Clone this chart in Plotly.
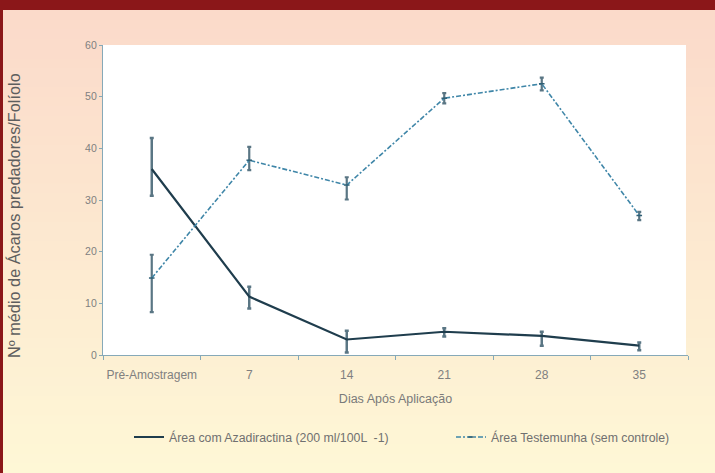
import plotly.graph_objects as go

categories = ["Pré-Amostragem", "7", "14", "21", "28", "35"]
acad = [36.0, 11.3, 3.0, 4.5, 3.7, 1.8]
acad_plus = [6.0, 1.9, 1.7, 0.7, 0.8, 0.6]
acad_minus = [5.2, 2.3, 2.5, 0.9, 1.9, 0.9]
test = [14.9, 37.7, 32.9, 49.7, 52.5, 27.0]
test_plus = [4.5, 2.6, 1.5, 1.0, 1.2, 0.7]
test_minus = [6.6, 1.9, 2.8, 1.0, 1.3, 0.9]
yticks = [0, 10, 20, 30, 40, 50, 60]

W, H = 715, 473
L, R, T, B = 103, 688, 45, 355


def px_x(p):
    return (p - L) / (R - L)


def px_y(p):
    return (B - p) / (B - T)


def hexmix(c1, c2, t):
    a = [int(c1[i:i + 2], 16) for i in (1, 3, 5)]
    b = [int(c2[i:i + 2], 16) for i in (1, 3, 5)]
    return "#%02x%02x%02x" % tuple(round(a[k] + (b[k] - a[k]) * t) for k in range(3))


FONT = "Liberation Sans, Arial, sans-serif"
shapes = []
n = 48
top_c, bot_c = "#FBDACA", "#FEF7D6"
y0 = 10
step = (H - y0) / n
for i in range(n):
    ya = y0 + i * step
    yb = ya + step + 1
    shapes.append(dict(type="rect", xref="paper", yref="paper", layer="below",
                       x0=px_x(0), x1=px_x(W), y0=px_y(yb), y1=px_y(ya),
                       fillcolor=hexmix(top_c, bot_c, i / (n - 1)), line=dict(width=0)))
shapes.append(dict(type="rect", xref="paper", yref="paper", layer="below",
                   x0=0, x1=px_x(686), y0=0, y1=1, fillcolor="#FFFFFF", line=dict(width=0)))
shapes.append(dict(type="rect", xref="paper", yref="paper", layer="above",
                   x0=px_x(0), x1=px_x(W), y0=px_y(10), y1=px_y(0),
                   fillcolor="#8B1719", line=dict(width=0)))
shapes.append(dict(type="rect", xref="paper", yref="paper", layer="above",
                   x0=px_x(0), x1=px_x(3), y0=px_y(H), y1=px_y(0),
                   fillcolor="#8B1719", line=dict(width=0)))

fig = go.Figure()
fig.add_trace(go.Scatter(
    x=categories, y=acad, mode="lines",
    name="Área com Azadiractina (200 ml/100L  -1)",
    line=dict(color="#1F3D4D", width=2.2),
    error_y=dict(type="data", symmetric=False, array=acad_plus, arrayminus=acad_minus,
                 color="#5A7684", thickness=2.5, width=2),
    legend="legend",
))
fig.add_trace(go.Scatter(
    x=categories, y=test, mode="lines+markers",
    name="Área Testemunha (sem controle)",
    line=dict(color="#3F86A8", width=1.6, dash="5px,2px,2px,2px"),
    marker=dict(symbol="line-ew-open", size=4, color="#2F5F75", line=dict(width=1.5, color="#2F5F75")),
    error_y=dict(type="data", symmetric=False, array=test_plus, arrayminus=test_minus,
                 color="#5A7684", thickness=2.2, width=2),
    legend="legend2",
))

axis_col = "#86A9B8"
leg_common = dict(orientation="h", xanchor="left", yanchor="middle",
                  bgcolor="rgba(0,0,0,0)", itemwidth=30,
                  font=dict(size=12.3, color="#707070"))
fig.update_layout(
    width=W, height=H,
    margin=dict(l=L, r=W - R, t=T, b=H - B),
    paper_bgcolor="#FDECD6", plot_bgcolor="#FFFFFF",
    shapes=shapes,
    font=dict(family=FONT, size=12, color="#7A7A7A"),
    xaxis=dict(type="category", range=[-0.5, 5.5], showgrid=False, zeroline=False,
               showline=True, linecolor=axis_col, linewidth=1.2, tickangle=0,
               ticks="outside", tickson="boundaries", ticklen=4, tickcolor=axis_col,
               ticklabelstandoff=8,
               tickfont=dict(size=12, color="#808080"),
               title=dict(text="Dias Após Aplicação", font=dict(size=12.5, color="#7A7A7A"), standoff=13)),
    yaxis=dict(range=[0, 60], tickvals=yticks, showgrid=False, zeroline=False,
               showline=True, linecolor=axis_col, linewidth=1.2,
               ticks="outside", ticklen=3, tickcolor=axis_col,
               tickfont=dict(size=10.5, color="#808080")),
    annotations=[dict(text="Nº médio de Ácaros predadores/Folíolo", textangle=-90,
                      xref="paper", yref="paper", x=px_x(14), y=px_y(216),
                      xanchor="center", yanchor="middle", showarrow=False,
                      font=dict(size=16.3, color="#5E5E5E"))],
    showlegend=True,
    legend=dict(x=px_x(129), y=px_y(437), **leg_common),
    legend2=dict(x=px_x(451), y=px_y(437), **leg_common),
)

fig.write_html("out.html", config={"displayModeBar": False},
               post_script="document.body.style.margin='0';document.body.style.padding='0';")
